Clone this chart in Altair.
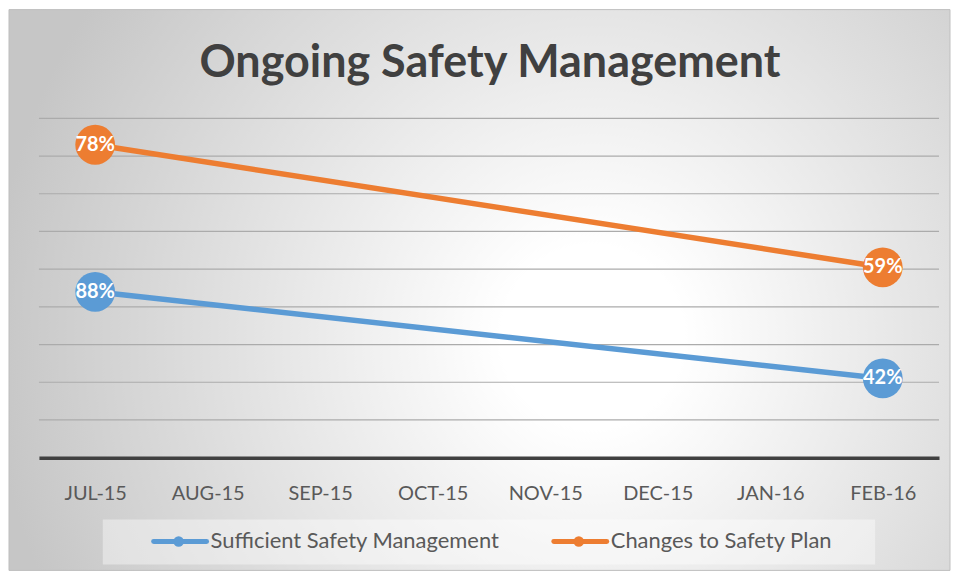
import altair as alt
import pandas as pd

# ---- data ----
months = ["JUL-15", "AUG-15", "SEP-15", "OCT-15", "NOV-15", "DEC-15", "JAN-16", "FEB-16"]
obs_months = ["JUL-15", "FEB-16"]
series = ["Sufficient Safety Management", "Changes to Safety Plan"]
sufficient = [88, 42]
changes = [78, 59]
grid_values = [20, 40, 60, 80, 100, 120, 140, 160, 180]
title_text = "Ongoing Safety Management"
colors = ["#5b9bd5", "#ed7d31"]

rows = []
for i, (name, vals) in enumerate(zip(series, [sufficient, changes])):
    for m, v in zip(obs_months, vals):
        rows.append({"month": m, "series": name, "value": v, "ord": i})
df = pd.DataFrame(rows)
grid_df = pd.DataFrame({"g": grid_values})

W, H = 902, 340
FONT = "Lato"
one = alt.Data(values=[{}])

yscale = alt.Scale(domain=[0, 180], nice=False, zero=True)
xenc = alt.X(
    "month:N",
    scale=alt.Scale(domain=months, type="point", padding=0.5),
    axis=alt.Axis(title=None, labelFontSize=20, labelColor="#595959", labelFont=FONT,
                  ticks=False, labelPadding=26, domainColor="#404040", domainWidth=3.5,
                  grid=False, labelAngle=0, zindex=1),
)
yenc = alt.Y("y1:Q", scale=yscale, axis=None)
cenc = alt.Color("series:N", scale=alt.Scale(domain=series, range=colors), legend=None)

base = alt.Chart(df).transform_stack(
    stack="value", groupby=["month"], as_=["y0", "y1"],
    sort=[alt.SortField("ord", order="ascending")],
).transform_calculate(label="datum.value + '%'")

lines = base.mark_line(strokeWidth=5.5).encode(x=xenc, y=yenc, color=cenc, order="ord:Q")
dots = base.mark_circle(size=1590, opacity=1).encode(x=xenc, y=yenc, color=cenc)
labels = base.mark_text(font=FONT, fontSize=20, fontWeight="bold", color="white",
                        align="center", baseline="middle").encode(x=xenc, y=yenc, text="label:N")

gridlines = alt.Chart(grid_df).mark_rule(color="#ababab", strokeWidth=1.2).encode(
    y=alt.Y("g:Q", scale=yscale, axis=None), x=alt.value(0), x2=alt.value(W)
)

grad = {
    "gradient": "radial",
    "x1": 0.62, "y1": 0.55, "r1": 0,
    "x2": 0.62, "y2": 0.55, "r2": 0.64,
    "stops": [
        {"offset": 0, "color": "#ffffff"},
        {"offset": 0.15, "color": "#ffffff"},
        {"offset": 1, "color": "#c6c6c6"},
    ],
}
bg = alt.Chart(one).mark_rect(fill=grad, stroke="#bfbfbf", strokeWidth=1).encode(
    x=alt.value(-30), x2=alt.value(W + 11), y=alt.value(-109), y2=alt.value(H + 113)
)

title = alt.Chart(one).mark_text(
    text=title_text, font=FONT, fontSize=45, fontWeight="bold", color="#404040",
    align="center", baseline="alphabetic"
).encode(x=alt.value(W / 2 + 1), y=alt.value(-41))

legend_box = alt.Chart(one).mark_rect(fill="white", opacity=0.4).encode(
    x=alt.value(64), x2=alt.value(838), y=alt.value(402), y2=alt.value(447)
)

legend_layers = []
leg_x = [113, 514]
for i, name in enumerate(series):
    lx = leg_x[i]
    legend_layers.append(
        alt.Chart(one).mark_rule(strokeWidth=5, strokeCap="round", color=colors[i]).encode(
            x=alt.value(lx + 2), x2=alt.value(lx + 55), y=alt.value(424)
        )
    )
    legend_layers.append(
        alt.Chart(one).mark_circle(size=110, opacity=1, color=colors[i]).encode(
            x=alt.value(lx + 27), y=alt.value(424)
        )
    )
    legend_layers.append(
        alt.Chart(one).mark_text(text=name, font=FONT, fontSize=22, color="#595959",
                                 align="left", baseline="middle").encode(
            x=alt.value(lx + 59), y=alt.value(424)
        )
    )

chart = alt.layer(bg, legend_box, gridlines, lines, dots, labels, title, *legend_layers).properties(
    width=W, height=H, padding=0, background="white"
).configure_view(stroke=None)

chart.save("out.html", embed_options={"renderer": "svg", "actions": False})
